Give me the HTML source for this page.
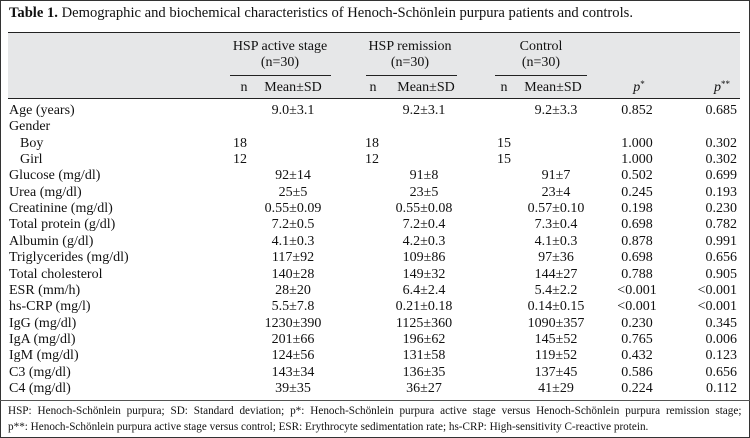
<!DOCTYPE html><html><head><style>
body{margin:0;width:750px;height:438px;overflow:hidden;background:#fff;font-family:"Liberation Serif",serif;font-size:14px;color:#111;position:relative}
#f{position:absolute;left:0;top:0;width:748px;height:436px;border:1px solid #333}
.t{position:absolute;white-space:nowrap;line-height:15px}
.c{width:120px;text-align:center}
.r{width:100px;text-align:right}
.l{position:absolute;height:1px;background:#222}
sup{font-size:9px;vertical-align:4px;line-height:0}
</style></head><body><div id="f"></div>
<div class="t" style="left:9px;top:6px;font-size:14.6px"><b>Table 1.</b> Demographic and biochemical characteristics of Henoch-Schönlein purpura patients and controls.</div>
<div style="position:absolute;left:8px;top:33px;width:732px;height:65px;background:#e6e7e8"></div>
<div class="l" style="left:8px;top:32px;width:732px"></div>
<div class="l" style="left:8px;top:98px;width:732px"></div>
<div class="l" style="left:230px;top:75px;width:101px"></div>
<div class="l" style="left:366px;top:75px;width:91px"></div>
<div class="l" style="left:495px;top:75px;width:92px"></div>
<div class="l" style="left:0px;top:400px;width:750px;background:#555"></div>
<div id="rows"></div>
<div class="t" style="left:8px;top:404px;font-size:11.2px;word-spacing:3.1px">HSP: Henoch-Schönlein purpura; SD: Standard deviation; p*: Henoch-Schönlein purpura active stage versus Henoch-Schönlein purpura remission stage;</div>
<div class="t" style="left:8px;top:420px;font-size:11.2px">p**: Henoch-Schönlein purpura active stage versus control; ESR: Erythrocyte sedimentation rate; hs-CRP: High-sensitivity C-reactive protein.</div>
<script>
function C(x,y,s){return `<div class="t c" style="left:${x-60}px;top:${y}px">${s}</div>`}
function Rt(x,y,s){return `<div class="t r" style="left:${x-100}px;top:${y}px">${s}</div>`}
let h="";
h+=C(280,39,"HSP active stage")+C(280,55,"(n=30)")+C(410,39,"HSP remission")+C(410,55,"(n=30)")+C(541,39,"Control")+C(541,55,"(n=30)");
h+=C(244,80,"n")+C(293,80,"Mean±SD")+C(373,80,"n")+C(426,80,"Mean±SD")+C(504,80,"n")+C(553,80,"Mean±SD");
h+=C(639,80,'<i>p</i><sup>*</sup>')+C(722,80,'<i>p</i><sup>**</sup>');
const R=[["Age (years)","","9.0±3.1","","9.2±3.1","","9.2±3.3","0.852","0.685"],["Gender"],
["  Boy","18","","18","","15","","1.000","0.302"],["  Girl","12","","12","","15","","1.000","0.302"],
["Glucose (mg/dl)","","92±14","","91±8","","91±7","0.502","0.699"],["Urea (mg/dl)","","25±5","","23±5","","23±4","0.245","0.193"],
["Creatinine (mg/dl)","","0.55±0.09","","0.55±0.08","","0.57±0.10","0.198","0.230"],["Total protein (g/dl)","","7.2±0.5","","7.2±0.4","","7.3±0.4","0.698","0.782"],
["Albumin (g/dl)","","4.1±0.3","","4.2±0.3","","4.1±0.3","0.878","0.991"],["Triglycerides (mg/dl)","","117±92","","109±86","","97±36","0.698","0.656"],
["Total cholesterol","","140±28","","149±32","","144±27","0.788","0.905"],["ESR (mm/h)","","28±20","","6.4±2.4","","5.4±2.2","&lt;0.001","&lt;0.001"],
["hs-CRP (mg/l)","","5.5±7.8","","0.21±0.18","","0.14±0.15","&lt;0.001","&lt;0.001"],["IgG (mg/dl)","","1230±390","","1125±360","","1090±357","0.230","0.345"],
["IgA (mg/dl)","","201±66","","196±62","","145±52","0.765","0.006"],["IgM (mg/dl)","","124±56","","131±58","","119±52","0.432","0.123"],
["C3 (mg/dl)","","143±34","","136±35","","137±45","0.586","0.656"],["C4 (mg/dl)","","39±35","","36±27","","41±29","0.224","0.112"]];
const X=[0,233,293,365,424,497,556,637,737];
R.forEach((r,i)=>{const y=103+i*16.35;
h+=`<div class="t" style="left:${r[0].startsWith("  ")?20:9}px;top:${y}px">${r[0].trim()}</div>`;
for(let j=1;j<r.length;j++)if(r[j]){
 if(j==1||j==3||j==5)h+=`<div class="t" style="left:${X[j]}px;top:${y}px">${r[j]}</div>`;
 else if(j==8)h+=Rt(X[j],y,r[j]);
 else h+=C(X[j],y,r[j]);}});
document.getElementById("rows").innerHTML=h;
</script></body></html>
